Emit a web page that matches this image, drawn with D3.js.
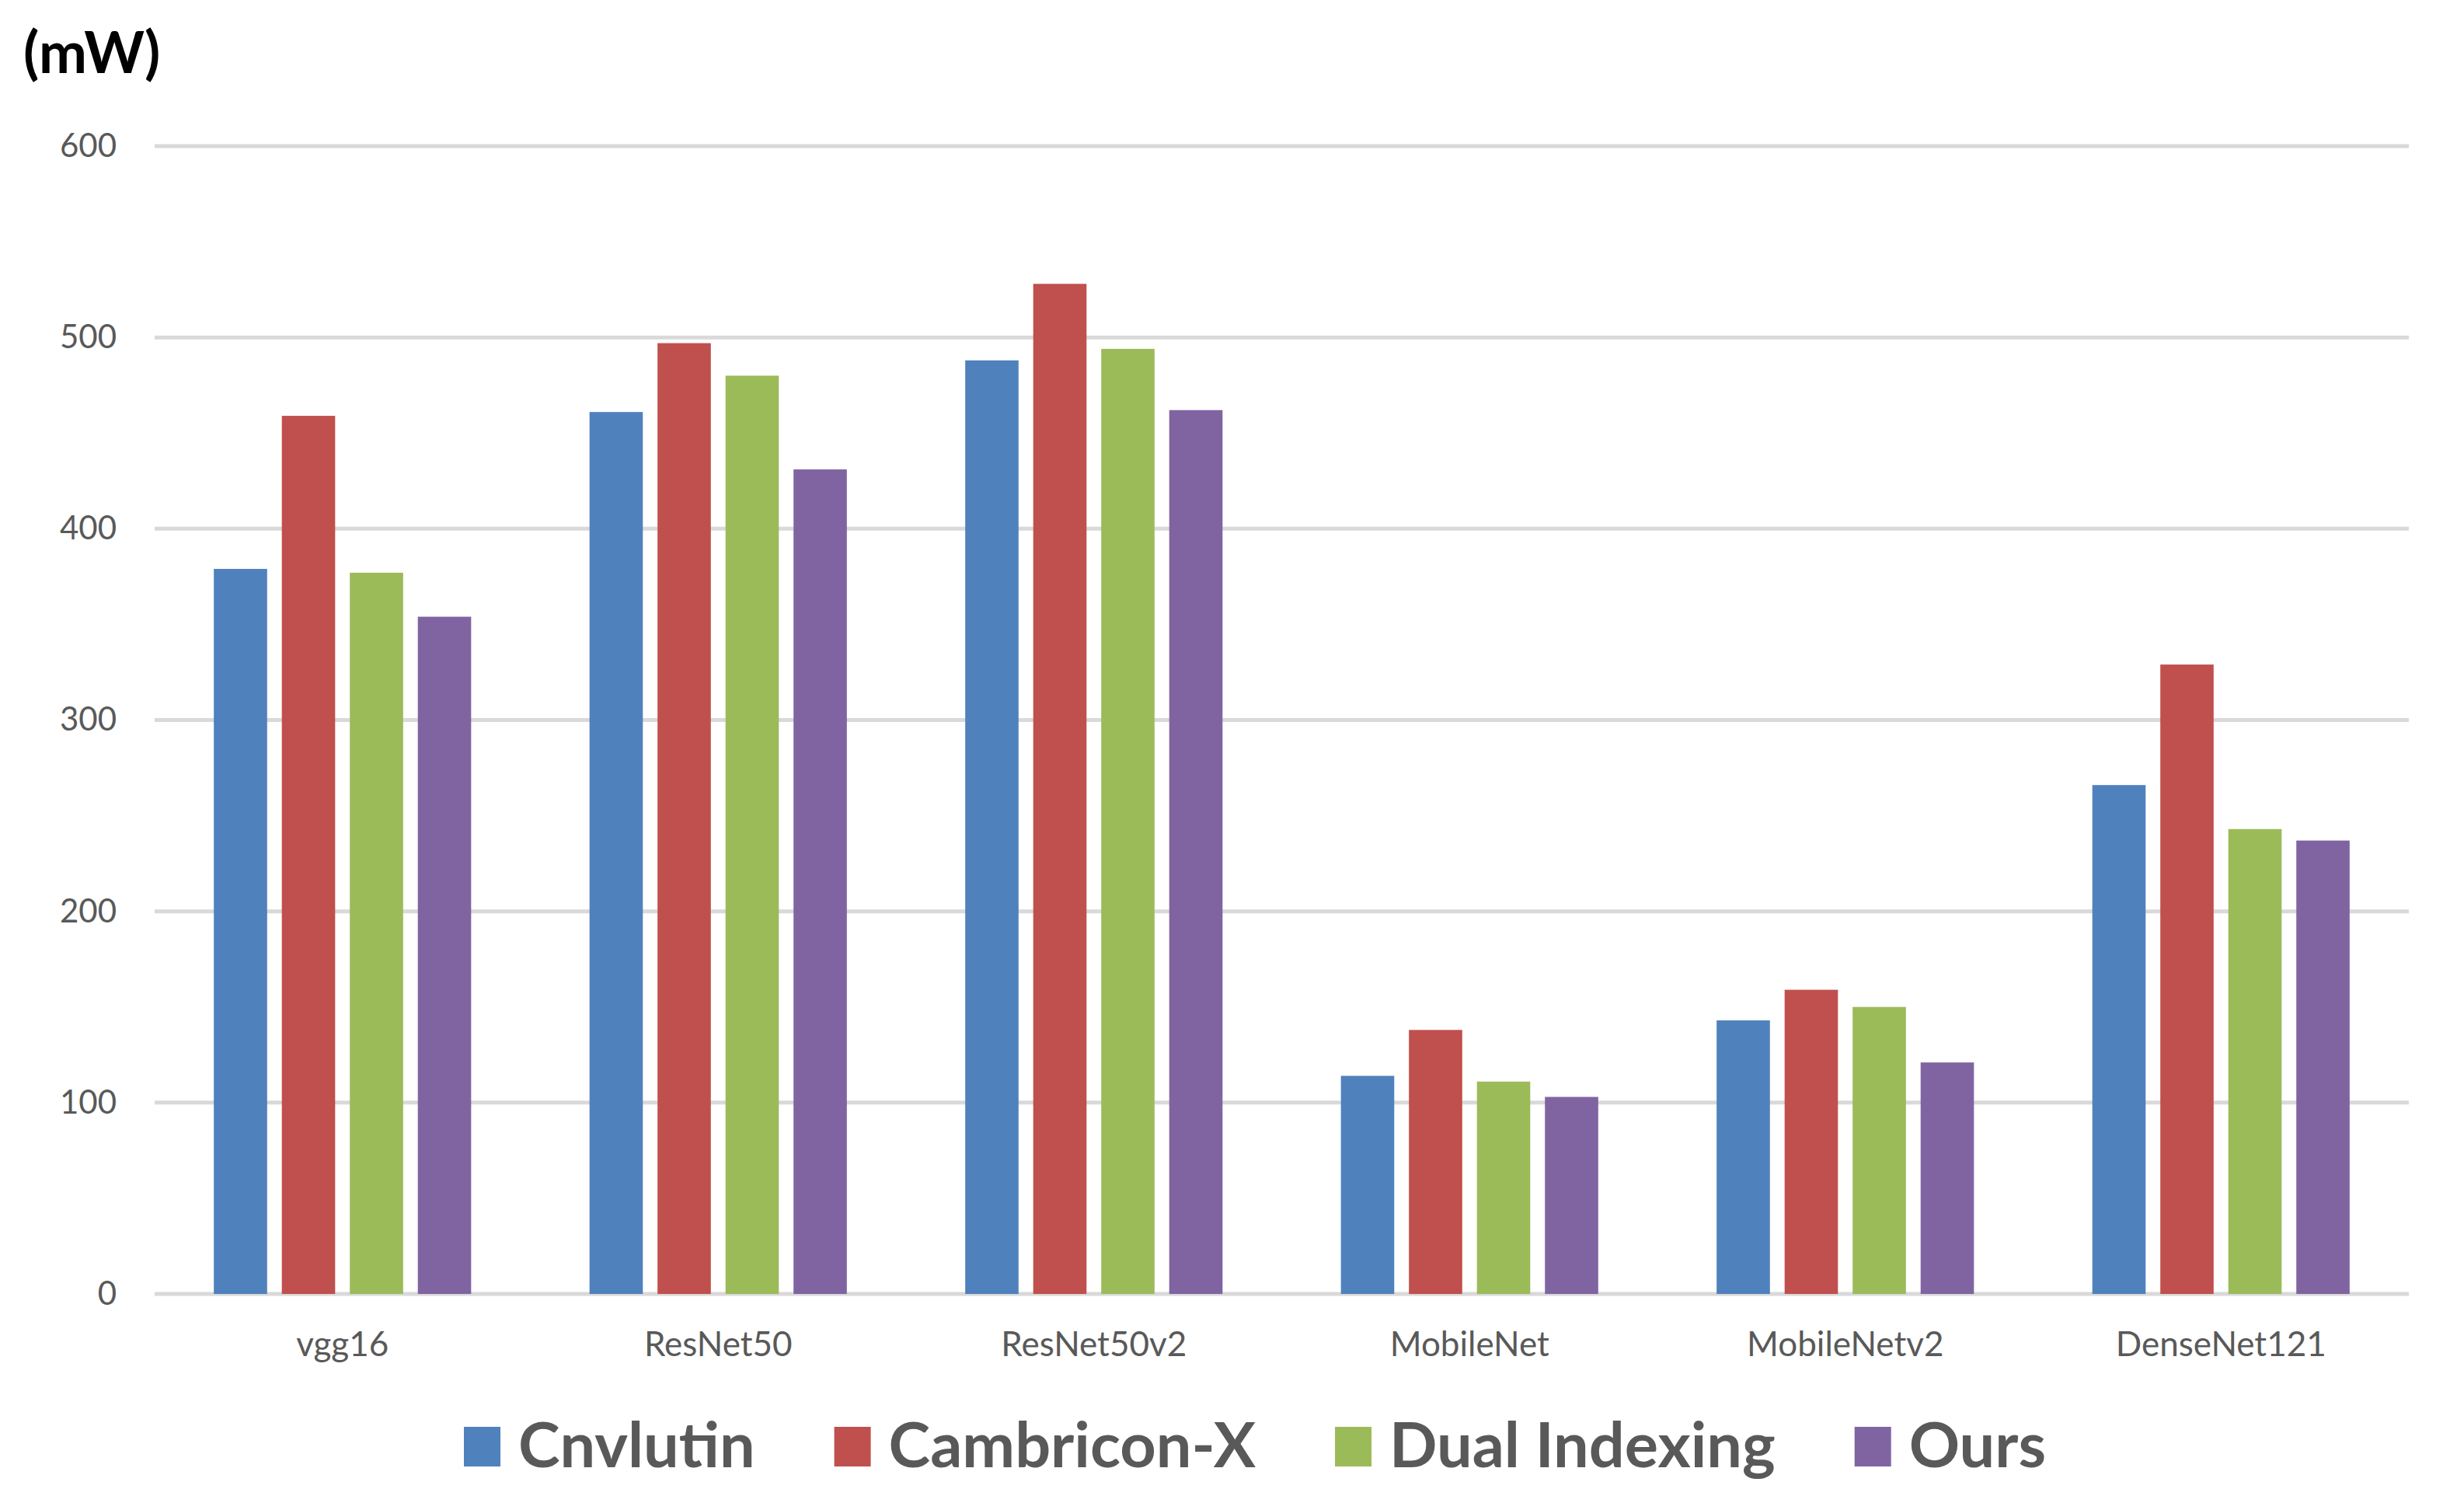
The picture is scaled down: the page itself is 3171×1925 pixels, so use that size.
<!DOCTYPE html>
<html>
<head>
<meta charset="utf-8">
<script src="https://cdn.jsdelivr.net/npm/d3@7"></script>
<style>
  body { margin: 0; background: #fff; }
  svg { display: block; }
</style>
</head>
<body>
<div id="chart"></div>
<script>
const WIDTH = 3171;
const HEIGHT = 1925;

const FONT = "Lato, 'Open Sans', sans-serif";

// datos
const modelos = ["vgg16", "ResNet50", "ResNet50v2", "MobileNet", "MobileNetv2", "DenseNet121"];
const series = ["Cnvlutin", "Cambricon-X", "Dual Indexing", "Ours"];
const cnvlutin = [379, 461, 488, 114, 143, 266];
const cambricon = [459, 497, 528, 138, 159, 329];
const dualIndexing = [377, 480, 494, 111, 150, 243];
const ours = [354, 431, 462, 103, 121, 237];
const ticks = [0, 100, 200, 300, 400, 500, 600];
const colores = ["#4F81BD", "#C0504D", "#9BBB59", "#8064A2"];

const valores = [cnvlutin, cambricon, dualIndexing, ours];

const SVG = d3.select("#chart").append("svg")
  .attr("width", WIDTH)
  .attr("height", HEIGHT);

const escalaX = d3.scaleBand()
  .domain(modelos)
  .range([199, 3100])
  .paddingInner(0.276)
  .paddingOuter(0.138);

const escalaSerie = d3.scaleBand()
  .domain(series)
  .range([0, escalaX.bandwidth()])
  .paddingInner(0.216)
  .paddingOuter(0.108);

const escalaY = d3.scaleLinear()
  .domain([0, 600])
  .range([1665, 188]);

// lineas de la grilla
SVG.append("g")
  .selectAll("line")
  .data(ticks)
  .join("line")
  .attr("x1", 199)
  .attr("x2", 3100)
  .attr("y1", d => escalaY(d))
  .attr("y2", d => escalaY(d))
  .attr("stroke", "#D9D9D9")
  .attr("stroke-width", 5);

// eje Y
const ejeY = d3.axisLeft(escalaY).tickValues(ticks).tickSize(0).tickPadding(0);
SVG.append("g")
  .attr("transform", "translate(150,0)")
  .call(ejeY)
  .call(g => g.select(".domain").remove())
  .selectAll("text")
  .attr("font-family", FONT)
  .attr("font-size", 42)
  .attr("fill", "#595959");

// eje X
const ejeX = d3.axisBottom(escalaX).tickSize(0).tickPadding(0);
SVG.append("g")
  .attr("transform", "translate(0,1714)")
  .call(ejeX)
  .call(g => g.select(".domain").remove())
  .selectAll("text")
  .attr("font-family", FONT)
  .attr("font-size", 44)
  .attr("fill", "#595959");

// barras
const filas = modelos.map((m, i) => ({ modelo: m, vals: series.map((s, j) => ({ serie: s, v: valores[j][i], c: colores[j] })) }));

SVG.append("g")
  .selectAll("g")
  .data(filas)
  .join("g")
  .attr("transform", d => `translate(${escalaX(d.modelo)},0)`)
  .selectAll("rect")
  .data(d => d.vals)
  .join("rect")
  .attr("x", d => escalaSerie(d.serie))
  .attr("width", escalaSerie.bandwidth())
  .attr("y", d => escalaY(d.v))
  .attr("height", d => escalaY(0) - escalaY(d.v))
  .attr("fill", d => d.c);

// unidad
SVG.append("text")
  .attr("x", 30)
  .attr("y", 94)
  .attr("font-family", FONT)
  .attr("font-weight", "bold")
  .attr("font-size", 74)
  .attr("fill", "#000")
  .text("(mW)");

// leyenda
const leyenda = SVG.append("g");
const items = leyenda.selectAll("g")
  .data(series)
  .join("g");

items.append("rect")
  .attr("width", 47)
  .attr("height", 51)
  .attr("y", 1836)
  .attr("fill", (d, i) => colores[i]);

items.append("text")
  .attr("y", 1888)
  .attr("font-family", FONT)
  .attr("font-weight", "bold")
  .attr("font-size", 81)
  .attr("fill", "#595959")
  .text(d => d);

let posX = 0;
const anchos = [];
items.each(function () {
  const w = d3.select(this).select("text").node().getComputedTextLength();
  anchos.push(w);
});
const total = d3.sum(anchos) + series.length * 70 + (series.length - 1) * 102;
posX = 1615 - total / 2;
items.each(function (d, i) {
  const g = d3.select(this);
  g.select("rect").attr("x", posX);
  g.select("text").attr("x", posX + 70);
  posX += 70 + anchos[i] + 102;
});
</script>
</body>
</html>
